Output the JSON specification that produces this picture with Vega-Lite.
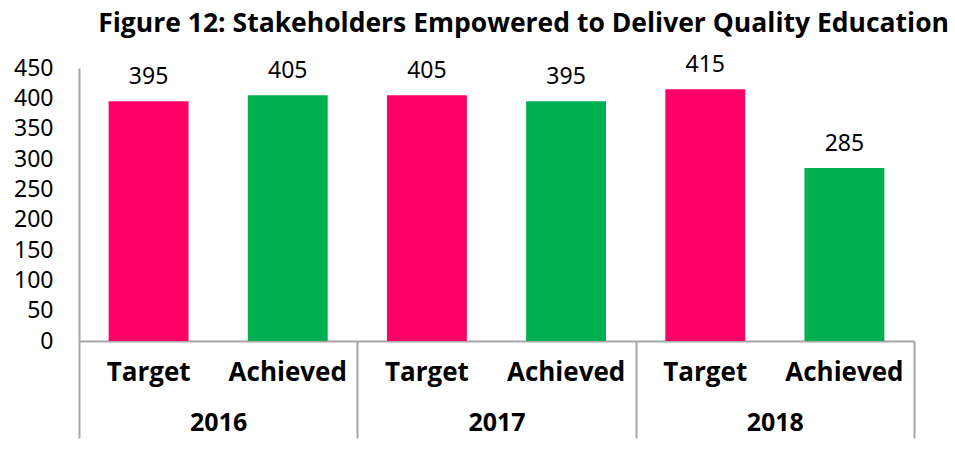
{
  "$schema": "https://vega.github.io/schema/vega-lite/v6.json",
  "width": 835,
  "height": 273,
  "autosize": {"type": "none"},
  "padding": {"left": 79, "top": 68, "right": 41, "bottom": 129},
  "title": {
    "text": "Figure 12: Stakeholders Empowered to Deliver Quality Education",
    "anchor": "end",
    "dx": 34,
    "offset": 17,
    "font": "Open Sans",
    "fontSize": 26.5,
    "fontWeight": "bold",
    "color": "#000000"
  },
  "config": {
    "view": {"stroke": null},
    "font": "Noto Sans",
    "axisY": {"labelOverlap": false, "labelFlush": false, "labelSeparation": 0}
  },
  "data": {
    "values": [
      {"year": "2016", "type": "Target", "value": 395},
      {"year": "2016", "type": "Achieved", "value": 405},
      {"year": "2017", "type": "Target", "value": 405},
      {"year": "2017", "type": "Achieved", "value": 395},
      {"year": "2018", "type": "Target", "value": 415},
      {"year": "2018", "type": "Achieved", "value": 285}
    ]
  },
  "encoding": {
    "x": {
      "field": "year",
      "type": "nominal",
      "scale": {"paddingInner": 0, "paddingOuter": 0},
      "axis": {
        "title": null,
        "tickBand": "extent",
        "tickSize": 97,
        "tickColor": "#A6A6A6",
        "tickWidth": 2,
        "domainColor": "#A6A6A6",
        "domainWidth": 2,
        "labelFont": "Open Sans",
        "labelFontWeight": "bold",
        "labelFontSize": 25,
        "labelColor": "#000000",
        "labelPadding": -16,
        "labelAngle": 0,
        "labelBaseline": "middle"
      }
    },
    "xOffset": {
      "field": "type",
      "type": "nominal",
      "sort": ["Target", "Achieved"],
      "scale": {"paddingInner": 0.426, "paddingOuter": 0.213}
    },
    "y": {
      "field": "value",
      "type": "quantitative",
      "scale": {"domain": [0, 450], "nice": false},
      "axis": {
        "title": null,
        "values": [0, 50, 100, 150, 200, 250, 300, 350, 400, 450],
        "ticks": false,
        "grid": false,
        "domainColor": "#A6A6A6",
        "domainWidth": 2,
        "labelFont": "Noto Sans",
        "labelFontSize": 23,
        "labelColor": "#000000",
        "labelPadding": 26,
        "labelFlush": false,
        "labelOverlap": false
      }
    }
  },
  "layer": [
    {
      "mark": {"type": "bar"},
      "encoding": {
        "color": {
          "field": "type",
          "type": "nominal",
          "scale": {"domain": ["Target", "Achieved"], "range": ["#FF0066", "#00B050"]},
          "legend": null
        }
      }
    },
    {
      "mark": {"type": "text", "baseline": "bottom", "dy": -12, "fontSize": 23, "font": "Noto Sans", "color": "#000000"},
      "encoding": {
        "text": {"field": "value", "type": "quantitative"}
      }
    },
    {
      "mark": {"type": "text", "baseline": "middle", "dy": 32, "fontSize": 26, "font": "Open Sans", "fontWeight": "bold", "color": "#000000"},
      "encoding": {
        "y": {"datum": 0, "type": "quantitative"},
        "text": {"field": "type", "type": "nominal"}
      }
    }
  ]
}
